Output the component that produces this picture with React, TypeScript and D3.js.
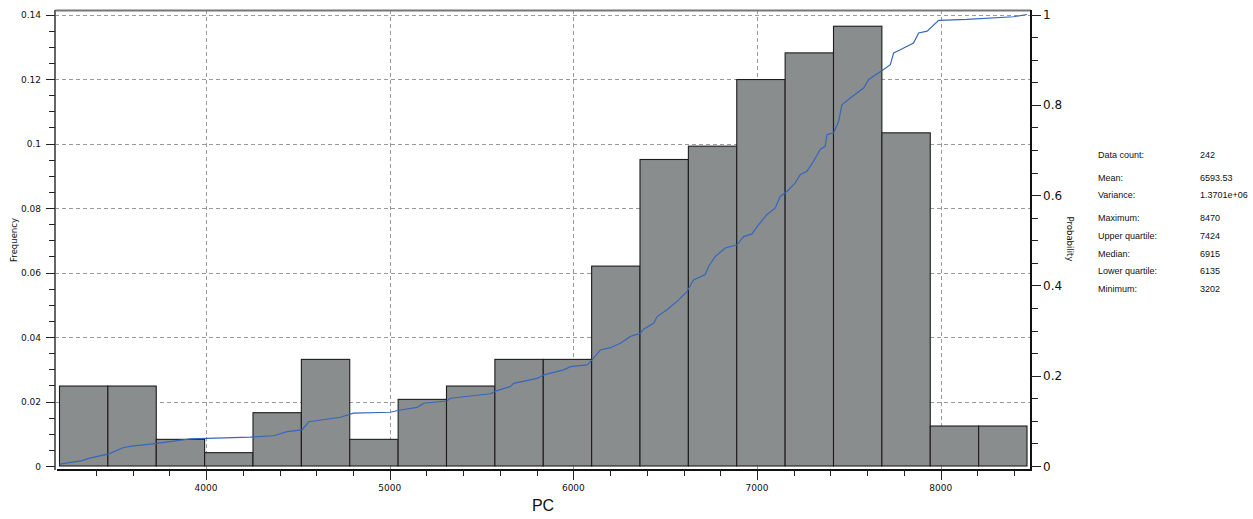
import { scaleLinear, line, range } from 'd3'

const width = 1253,
      height = 519,
      frame = { left: 55, right: 1031, top: 10, bottom: 470 },
      font = '"DejaVu Sans", sans-serif',
      statFont = '"Liberation Sans", Arial, sans-serif'

// histogram: 20 bins between the minimum and maximum, counts per bin
const binCounts = [6, 6, 2, 1, 4, 8, 2, 5, 6, 8, 8, 15, 23, 24, 29, 31, 33, 25, 3, 3]
const dataCount = 242
const minValue = 3202
const maxValue = 8470

const cdfValues = [
  3202, 3325, 3361, 3470, 3551, 3597, 3733, 3842, 3915, 4005, 4241, 4368, 4441, 4523, 4559,
  4731, 4803, 5003, 5058, 5149, 5185, 5312, 5330, 5548, 5584, 5657, 5675, 5803, 5839, 5947,
  5984, 6075, 6102, 6147, 6202, 6256, 6311, 6365, 6382, 6437, 6456, 6510, 6573, 6618, 6654,
  6718, 6736, 6773, 6827, 6891, 6927, 6972, 7008, 7054, 7099, 7126, 7163, 7208, 7235, 7272,
  7308, 7344, 7371, 7381, 7417, 7444, 7462, 7508, 7580, 7608, 7689, 7726, 7744, 7780, 7852,
  7880, 7926, 7989, 8143, 8397, 8470
]
const cdfProbs = [
  0.004, 0.012, 0.017, 0.027, 0.041, 0.044, 0.050, 0.056, 0.060, 0.061, 0.064, 0.067, 0.076, 0.080, 0.098,
  0.108, 0.117, 0.119, 0.124, 0.130, 0.139, 0.144, 0.150, 0.160, 0.167, 0.176, 0.183, 0.194, 0.202, 0.213,
  0.220, 0.224, 0.235, 0.257, 0.262, 0.272, 0.287, 0.294, 0.303, 0.316, 0.331, 0.346, 0.368, 0.386, 0.412,
  0.424, 0.442, 0.464, 0.483, 0.490, 0.508, 0.514, 0.534, 0.557, 0.571, 0.597, 0.608, 0.627, 0.645, 0.653,
  0.675, 0.701, 0.708, 0.734, 0.738, 0.763, 0.800, 0.815, 0.837, 0.856, 0.878, 0.889, 0.915, 0.922, 0.937,
  0.959, 0.963, 0.987, 0.989, 0.995, 1.0
]

const xMajorTicks = [4000, 5000, 6000, 7000, 8000]
const xMinorTicks = range(3400, 8401, 200)
const freqMajorTicks = [0, 0.02, 0.04, 0.06, 0.08, 0.1, 0.12, 0.14]
const freqMinorTicks = range(0, 0.1401, 0.005)
const probMajorTicks = [0, 0.2, 0.4, 0.6, 0.8, 1]
const probMinorTicks = range(0, 1.001, 0.05)

// summary box on the right
const statGroups = [
  [['Data count:', '242']],
  [['Mean:', '6593.53'], ['Variance:', '1.3701e+06']],
  [['Maximum:', '8470'], ['Upper quartile:', '7424'], ['Median:', '6915'], ['Lower quartile:', '6135'], ['Minimum:', '3202']]
]

const x = scaleLinear().domain([minValue, maxValue]).range([59.5, 1027])
const yFreq = scaleLinear().domain([0, 0.14]).range([466, 14.5])
const yProb = scaleLinear().domain([0, 1]).range([466, 14.5])

const binWidth = (maxValue - minValue) / binCounts.length

const cdfLine = line<number>()
  .x((d, i) => x(cdfValues[i]))
  .y(d => yProb(d))

const fmt = (v: number) => String(+v.toFixed(2))

export default function App() {
  let statY = 158
  const statRows: JSX.Element[] = []
  statGroups.forEach((g, gi) => {
    if (gi > 0) statY += 5
    g.forEach(([label, value]) => {
      statRows.push(
        <g key={label}>
          <text x={1098} y={statY}>{label}</text>
          <text x={1200} y={statY}>{value}</text>
        </g>
      )
      statY += 17.7
    })
  })

  return (
    <svg width={width} height={height} style={{ position: 'absolute', left: 0, top: 0, background: '#fff' }}>

      {/* grid */}
      <g stroke='#9a9a9a' strokeWidth='1' strokeDasharray='4,3'>
        { xMajorTicks.map(t =>
          <line key={'gx' + t} x1={Math.round(x(t)) + 0.5} x2={Math.round(x(t)) + 0.5} y1={frame.top} y2={frame.bottom} />
        )}
        { freqMajorTicks.filter(t => t > 0).map(t =>
          <line key={'gy' + t} x1={frame.left} x2={frame.right} y1={Math.round(yFreq(t)) + 0.5} y2={Math.round(yFreq(t)) + 0.5} />
        )}
      </g>

      {/* histogram bars */}
      <g fill='#8a8d8d' stroke='#1c1c1c' strokeWidth='1.1'>
        { binCounts.map((c, i) => {
          const x0 = x(minValue + i * binWidth), x1 = x(minValue + (i + 1) * binWidth)
          const y0 = yFreq(c / dataCount)
          return <rect key={'b' + i} x={x0} y={y0} width={x1 - x0} height={yFreq(0) - y0} />
        })}
      </g>

      {/* cumulative probability */}
      <path d={cdfLine(cdfProbs) || ''} fill='none' stroke='#3567bd' strokeWidth='1.2' />

      {/* frame */}
      <line x1={frame.left} x2={frame.right} y1={frame.top + 0.5} y2={frame.top + 0.5} stroke='#777' strokeWidth='2' />
      <line x1={frame.left} x2={frame.left} y1={frame.top} y2={frame.bottom} stroke='#666' strokeWidth='2' />
      <line x1={frame.right} x2={frame.right} y1={frame.top} y2={frame.bottom + 1} stroke='#111' strokeWidth='2' />
      <line x1={frame.left + 2} x2={frame.right} y1={frame.bottom} y2={frame.bottom} stroke='#111' strokeWidth='2' />

      {/* x axis */}
      <g stroke='#222' strokeWidth='1'>
        { xMinorTicks.map(t =>
          <line key={'xt' + t} x1={Math.round(x(t)) + 0.5} x2={Math.round(x(t)) + 0.5} y1={frame.bottom}
                y2={xMajorTicks.includes(t) ? frame.bottom + 10 : frame.bottom + 6} />
        )}
      </g>
      <g fontFamily={font} fontSize='9' textAnchor='middle' fill='#111'>
        { xMajorTicks.map(t => <text key={'xl' + t} x={x(t)} y={491}>{t}</text>) }
      </g>
      <text x={543} y={511} fontFamily={statFont} fontSize='16' textAnchor='middle' fill='#111'>PC</text>

      {/* left axis */}
      <g stroke='#222' strokeWidth='1'>
        { freqMinorTicks.map((t, i) =>
          <line key={'yt' + i} y1={Math.round(yFreq(t)) + 0.5} y2={Math.round(yFreq(t)) + 0.5}
                x1={i % 4 === 0 ? frame.left - 9 : frame.left - 6} x2={frame.left} />
        )}
      </g>
      <g fontFamily={font} fontSize='9' textAnchor='end' fill='#111'>
        { freqMajorTicks.map(t => <text key={'yl' + t} x={41} y={yFreq(t) + 3.5}>{fmt(t)}</text>) }
      </g>
      <text transform='translate(17, 240) rotate(-90)' fontFamily={font} fontSize='8.5' textAnchor='middle' fill='#111'>Frequency</text>

      {/* right axis */}
      <g stroke='#222' strokeWidth='1'>
        { probMinorTicks.map((t, i) =>
          <line key={'pt' + i} y1={Math.round(yProb(t)) + 0.5} y2={Math.round(yProb(t)) + 0.5}
                x1={frame.right} x2={i % 4 === 0 ? frame.right + 10 : frame.right + 7} />
        )}
      </g>
      <g fontFamily={font} fontSize='12' textAnchor='start' fill='#111'>
        { probMajorTicks.map(t => <text key={'pl' + t} x={1043} y={yProb(t) + 4.5}>{fmt(t)}</text>) }
      </g>
      <text transform='translate(1067, 239) rotate(90)' fontFamily={font} fontSize='8.5' textAnchor='middle' fill='#111'>Probability</text>

      {/* statistics */}
      <g fontFamily={statFont} fontSize='9' fill='#111'>
        { statRows }
      </g>
    </svg>
  )
}
